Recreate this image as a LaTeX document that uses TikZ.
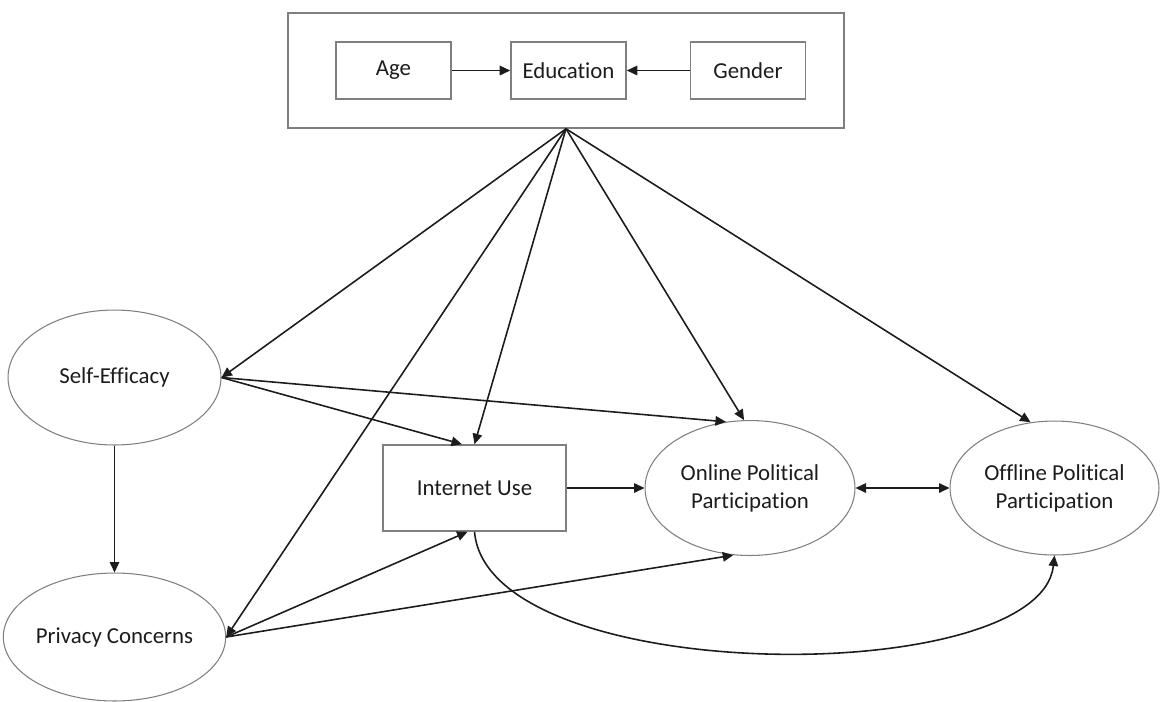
\documentclass[tikz,border=0pt]{standalone}
\usepackage{fontspec}
\setmainfont{Carlito}[Ligatures=NoCommon]
\usetikzlibrary{shapes.geometric,arrows.meta}
\definecolor{shapeline}{HTML}{7F7F7F}
\definecolor{inkline}{HTML}{1C1C1C}
\tikzset{
  varbox/.style={draw=shapeline, line width=0.9pt, minimum width=2.3cm, minimum height=1.14cm,
                 inner sep=0pt, font=\fontsize{13}{16}\selectfont, text=inkline},
  latent/.style={ellipse, draw=shapeline, line width=0.6pt, inner sep=0pt, align=center,
                 font=\fontsize{13}{16}\selectfont, text=inkline},
  effect/.style={-{Triangle[length=2.1mm, width=1.9mm]}, line width=0.9pt, draw=inkline},
  mutual/.style={{Triangle[length=2.1mm, width=1.9mm]}-{Triangle[length=2.1mm, width=1.9mm]}, line width=0.9pt, draw=inkline},
}
\begin{document}
\begin{tikzpicture}[x=0.02cm, y=-0.02cm]
    \useasboundingbox (0,0) rectangle (1160,701);
    % demographic controls
    \node[draw=shapeline, line width=0.9pt, minimum width=11.12cm, minimum height=2.3cm, inner sep=0pt] (ctrl) at (566, 70.5) {};
    \node[varbox] (age) at (393.5, 70.5) {Age};
    \node[varbox] (edu) at (568.5, 70.5) {Education};
    \node[varbox] (gender) at (748, 70.5) {Gender};
    \draw[effect] (age) -- (edu);
    \draw[effect] (gender) -- (edu);
    % model variables
    \node[latent, minimum width=4.26cm, minimum height=2.7cm] (selfeff) at (114.5, 377.5) {Self-Efficacy};
    \node[latent, minimum width=4.26cm, minimum height=2.56cm] (privacy) at (114.5, 637) {Privacy Concerns};
    \node[varbox, minimum width=3.66cm, minimum height=1.72cm] (netuse) at (474.5, 488) {Internet Use};
    \node[latent, minimum width=4.2cm, minimum height=2.7cm] (online) at (750, 488) {Online Political\\Participation};
    \node[latent, minimum width=4.18cm, minimum height=2.68cm] (offline) at (1054.5, 488) {Offline Political\\Participation};
    % controls on everything
    \draw[effect] (ctrl.south) -- (selfeff.east);
    \draw[effect] (ctrl.south) -- (privacy.east);
    \draw[effect] (ctrl.south) -- (netuse.north);
    \draw[effect] (ctrl.south) -- (online.95);
    \draw[effect] (ctrl.south) -- (offline.110);
    % paths
    \draw[effect] (selfeff.east) -- (netuse.106);
    \draw[effect] (selfeff.east) -- (online.110);
    \draw[effect] (selfeff.south) -- (privacy.north);
    \draw[effect] (privacy.east) -- (netuse.261);
    \draw[effect] (privacy.east) -- (online.256);
    \draw[effect] (netuse.east) -- (online.west);
    \draw[mutual] (online.east) -- (offline.west);
    \draw[effect] (netuse.south) .. controls (488, 688) and (1040, 690) .. (offline.south);
  \end{tikzpicture}
\end{document}
